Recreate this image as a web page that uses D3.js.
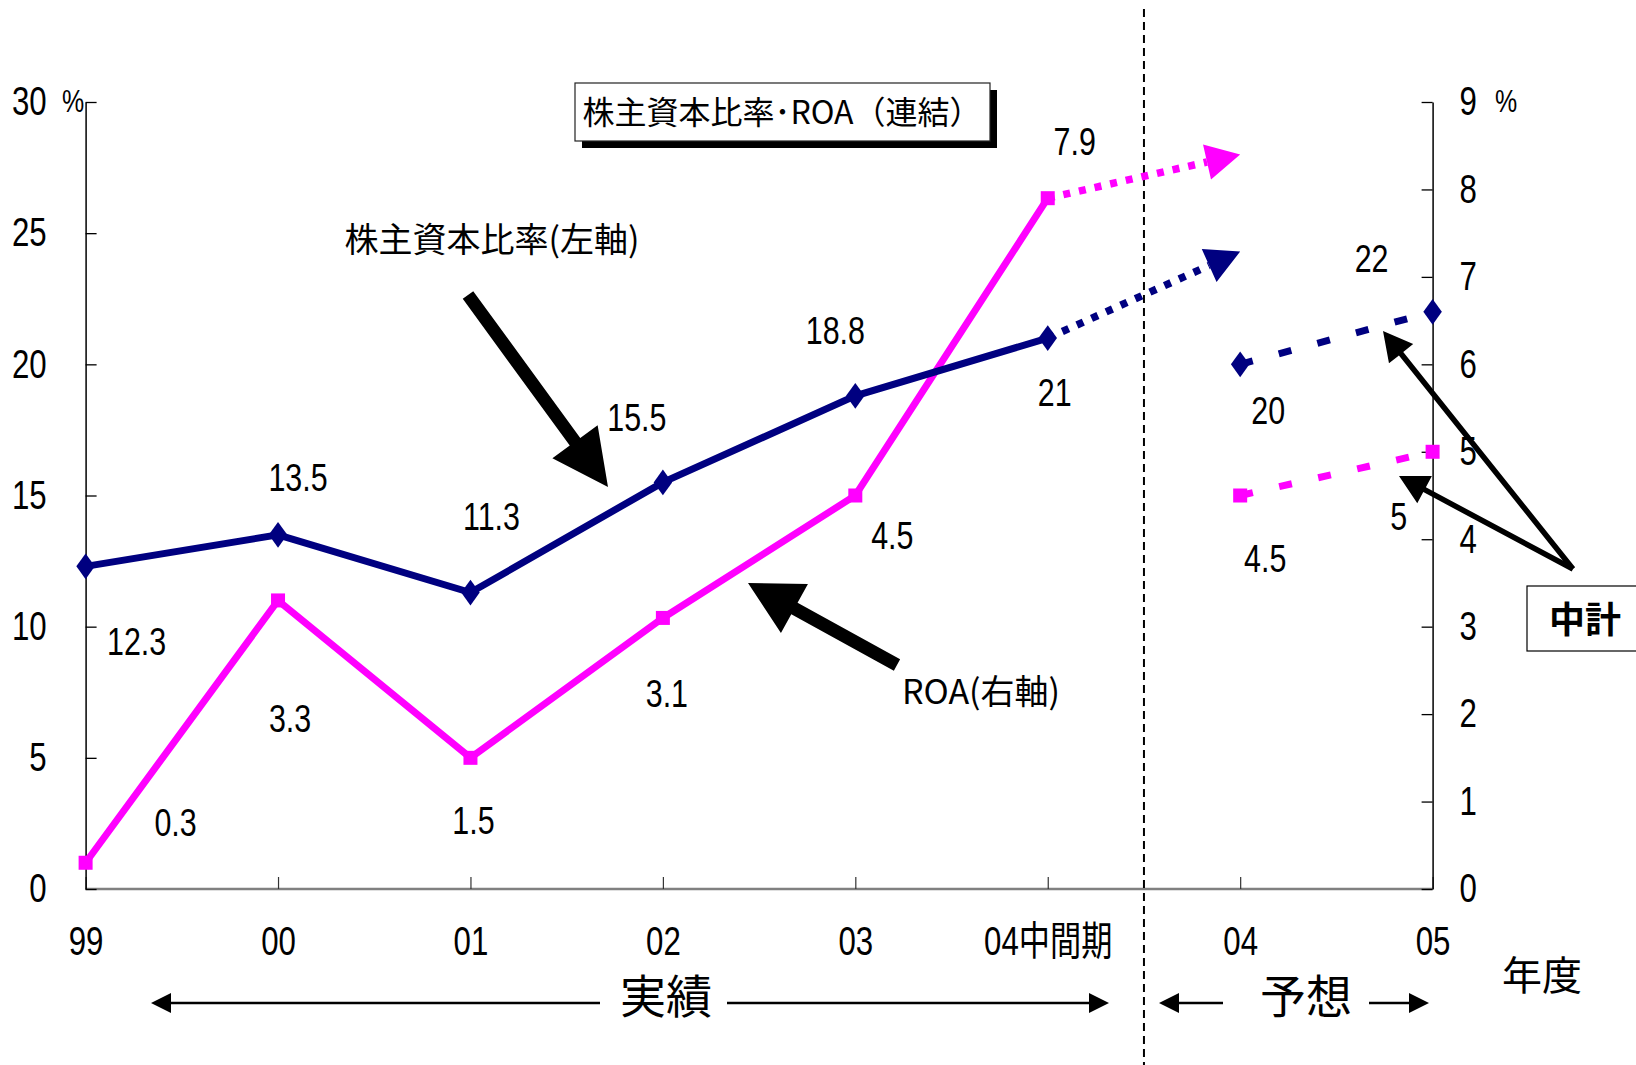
<!DOCTYPE html>
<html lang="ja">
<head>
<meta charset="utf-8">
<script src="https://cdn.jsdelivr.net/npm/d3@7"></script>
<style>
  html, body { margin: 0; padding: 0; background: #fff; }
  svg { display: block; }
</style>
</head>
<body>
<svg id="chart" width="1636" height="1065"></svg>
<script>
/* ============================
   Data
============================ */

const years = ["99", "00", "01", "02", "03", "04中間期", "04", "05"];
const actualYears = ["99", "00", "01", "02", "03", "04中間期"];
const planYears = ["04", "05"];

// 株主資本比率 (左軸, %)
const equityActual = [12.3, 13.5, 11.3, 15.5, 18.8, 21];
const equityPlan = [20, 22];
const equityTrendTarget = 24.3;   // 点線矢印の先端 (04)

// ROA (右軸, %)
const roaActual = [0.3, 3.3, 1.5, 3.1, 4.5, 7.9];
const roaPlan = [4.5, 5];
const roaTrendTarget = 8.4;

const leftTicks = [0, 5, 10, 15, 20, 25, 30];
const rightTicks = [0, 1, 2, 3, 4, 5, 6, 7, 8, 9];

/* ============================
   Setup
============================ */

const NAVY = "#000080";
const MAGENTA = "#ff00ff";
const LAT_FONT = "'Liberation Sans', 'Noto Sans CJK JP', sans-serif";
const JP_FONT = "'Noto Sans CJK JP', sans-serif";
const SX = 0.78;   // smal stil (Arial Narrow-liknande)

const svg = d3.select("#chart");

const x = d3.scalePoint().domain(years).range([85.6, 1432.6]).padding(0);
const yL = d3.scaleLinear().domain([0, 30]).range([889, 102]);
const yR = d3.scaleLinear().domain([0, 9]).range([889, 102]);

/* ============================
   Hjälpfunktioner
============================ */

function arrowPath(x1, y1, x2, y2, shaft, headLen, headW) {
  const dx = x2 - x1, dy = y2 - y1;
  const len = Math.hypot(dx, dy);
  const ux = dx / len, uy = dy / len;
  const px = -uy, py = ux;
  const bx = x2 - ux * headLen, by = y2 - uy * headLen;
  const p = d3.path();
  p.moveTo(x1 + px * shaft / 2, y1 + py * shaft / 2);
  p.lineTo(bx + px * shaft / 2, by + py * shaft / 2);
  p.lineTo(bx + px * headW / 2, by + py * headW / 2);
  p.lineTo(x2, y2);
  p.lineTo(bx - px * headW / 2, by - py * headW / 2);
  p.lineTo(bx - px * shaft / 2, by - py * shaft / 2);
  p.lineTo(x1 - px * shaft / 2, y1 - py * shaft / 2);
  p.closePath();
  return p.toString();
}

// narrow text: placed at (x,y), squeezed horizontally
function nText(parent, x, y, str, size, anchor = "middle") {
  return parent.append("text")
    .attr("transform", `translate(${x},${y}) scale(${SX},1)`)
    .attr("dy", "0.36em")
    .attr("text-anchor", anchor)
    .attr("font-family", LAT_FONT)
    .attr("font-size", size)
    .attr("fill", "#000")
    .text(str);
}

function squeezeTicks(axisG) {
  axisG.selectAll(".tick text").each(function () {
    const t = d3.select(this);
    const tx = +t.attr("x") || 0;
    t.attr("x", tx / SX)
      .attr("transform", `scale(${SX},1)`)
      .attr("font-family", LAT_FONT)
      .attr("font-size", 40)
      .attr("fill", "#000");
  });
}

/* ============================
   Axlar
============================ */

svg.append("line")
  .attr("x1", x("99")).attr("x2", x("05"))
  .attr("y1", yL(0)).attr("y2", yL(0))
  .attr("stroke", "#808080").attr("stroke-width", 2.5);

const xAxis = svg.append("g")
  .attr("transform", `translate(0,${yL(0)})`)
  .call(d3.axisBottom(x).tickSizeInner(-12).tickSizeOuter(0).tickPadding(38));
xAxis.select(".domain").remove();
xAxis.selectAll(".tick line").attr("stroke", "#333").attr("stroke-width", 1.2);
squeezeTicks(xAxis);

const leftAxis = svg.append("g")
  .attr("transform", `translate(${x("99")},0)`)
  .call(d3.axisLeft(yL).tickValues(leftTicks).tickSizeInner(-11).tickSizeOuter(0).tickPadding(39));
leftAxis.select(".domain").attr("stroke", "#000").attr("stroke-width", 1.5);
leftAxis.selectAll(".tick line").attr("stroke", "#000").attr("stroke-width", 1.3);
squeezeTicks(leftAxis);

const rightAxis = svg.append("g")
  .attr("transform", `translate(${x("05")},0)`)
  .call(d3.axisRight(yR).tickValues(rightTicks).tickSizeInner(-11).tickSizeOuter(0).tickPadding(27));
rightAxis.select(".domain").attr("stroke", "#000").attr("stroke-width", 1.5);
rightAxis.selectAll(".tick line").attr("stroke", "#000").attr("stroke-width", 1.3);
squeezeTicks(rightAxis);

nText(svg, 62, yL(30) - 2, "%", 32, "start");
nText(svg, 1495, yR(9) - 2, "%", 32, "start");

/* ============================
   Separator (実績 / 予想)
============================ */

const sepX = (x("04中間期") + x("04")) / 2;
svg.append("line")
  .attr("x1", sepX).attr("x2", sepX)
  .attr("y1", 9).attr("y2", 1065)
  .attr("stroke", "#000").attr("stroke-width", 2)
  .attr("stroke-dasharray", "8,5");

/* ============================
   Linjer
============================ */

const equityPts = actualYears.map((d, i) => [x(d), yL(equityActual[i])]);
const roaPts = actualYears.map((d, i) => [x(d), yR(roaActual[i])]);
const equityPlanPts = planYears.map((d, i) => [x(d), yL(equityPlan[i])]);
const roaPlanPts = planYears.map((d, i) => [x(d), yR(roaPlan[i])]);

const line = d3.line();

svg.append("path")
  .attr("d", line(roaPts))
  .attr("fill", "none").attr("stroke", MAGENTA)
  .attr("stroke-width", 7);

svg.append("path")
  .attr("d", line(equityPts))
  .attr("fill", "none").attr("stroke", NAVY)
  .attr("stroke-width", 7);

// 中計 (dashed)
svg.append("path")
  .attr("d", line(equityPlanPts))
  .attr("fill", "none").attr("stroke", NAVY)
  .attr("stroke-width", 7).attr("stroke-dasharray", "13,27");
svg.append("path")
  .attr("d", line(roaPlanPts))
  .attr("fill", "none").attr("stroke", MAGENTA)
  .attr("stroke-width", 7).attr("stroke-dasharray", "13,27");

// trend (dotted + arrowhead)
function trendArrow(from, target, color) {
  const to = [x("04"), target];
  const dx = to[0] - from[0], dy = to[1] - from[1];
  const len = Math.hypot(dx, dy);
  const head = 34;
  const bx = to[0] - dx / len * head, by = to[1] - dy / len * head;
  svg.append("line")
    .attr("x1", from[0]).attr("y1", from[1])
    .attr("x2", bx).attr("y2", by)
    .attr("stroke", color).attr("stroke-width", 7.5)
    .attr("stroke-dasharray", "7,9");
  svg.append("path")
    .attr("d", arrowPath(from[0], from[1], to[0], to[1], 0, head, 36))
    .attr("fill", color);
}
trendArrow(roaPts[roaPts.length - 1], yR(roaTrendTarget), MAGENTA);
trendArrow(equityPts[equityPts.length - 1], yL(equityTrendTarget), NAVY);

/* ============================
   Markörer
============================ */

const diamond = d3.symbol().type(d3.symbolDiamond).size(190);

svg.selectAll("path.eq-mark")
  .data(equityPts.concat(equityPlanPts))
  .enter()
  .append("path")
  .attr("class", "eq-mark")
  .attr("transform", d => `translate(${d[0]},${d[1]}) scale(1.25,1)`)
  .attr("d", diamond)
  .attr("fill", NAVY);

svg.selectAll("rect.roa-mark")
  .data(roaPts.concat(roaPlanPts))
  .enter()
  .append("rect")
  .attr("class", "roa-mark")
  .attr("x", d => d[0] - 7)
  .attr("y", d => d[1] - 7)
  .attr("width", 14)
  .attr("height", 14)
  .attr("fill", MAGENTA);

/* ============================
   Dataetiketter
============================ */

const equityOffsets = [[51, 75], [20, -58], [21, -77], [-26, -65], [-20, -66], [7, 54], [28, 46], [-61, -54]];
const roaOffsets = [[90, -41], [12, 118], [3, 62], [4, 75], [37, 39], [27, -57], [25, 62], [-34, 64]];

const eqAll = equityPts.concat(equityPlanPts);
const roaAll = roaPts.concat(roaPlanPts);

equityActual.concat(equityPlan).forEach((v, i) => {
  nText(svg, eqAll[i][0] + equityOffsets[i][0], eqAll[i][1] + equityOffsets[i][1], v, 39);
});
roaActual.concat(roaPlan).forEach((v, i) => {
  nText(svg, roaAll[i][0] + roaOffsets[i][0], roaAll[i][1] + roaOffsets[i][1], v, 39);
});

/* ============================
   Titel + annoteringar
============================ */

svg.append("rect")
  .attr("x", 582).attr("y", 90).attr("width", 415).attr("height", 58)
  .attr("fill", "#000");
svg.append("rect")
  .attr("x", 575).attr("y", 83).attr("width", 415).attr("height", 58)
  .attr("fill", "#fff").attr("stroke", "#222").attr("stroke-width", 1.2);
svg.append("text")
  .attr("x", 782).attr("y", 112).attr("dy", "0.36em")
  .attr("text-anchor", "middle")
  .attr("font-family", JP_FONT).attr("font-size", 32)
  .text("株主資本比率･ROA（連結）");

svg.append("text")
  .attr("x", 492).attr("y", 240).attr("dy", "0.36em")
  .attr("text-anchor", "middle")
  .attr("font-family", JP_FONT).attr("font-size", 34)
  .text("株主資本比率(左軸)");

svg.append("text")
  .attr("x", 981).attr("y", 692).attr("dy", "0.36em")
  .attr("text-anchor", "middle")
  .attr("font-family", JP_FONT).attr("font-size", 34)
  .text("ROA(右軸)");

svg.append("path").attr("d", arrowPath(468, 295, 608, 487, 13, 56, 56)).attr("fill", "#000");
svg.append("path").attr("d", arrowPath(897, 665, 748, 583, 13, 53, 56)).attr("fill", "#000");

// 中計
svg.append("path").attr("d", arrowPath(1573, 569, 1383, 331, 5.5, 29, 31)).attr("fill", "#000");
svg.append("path").attr("d", arrowPath(1573, 569, 1399, 476, 5.5, 29, 31)).attr("fill", "#000");

svg.append("rect")
  .attr("x", 1527).attr("y", 586).attr("width", 120).attr("height", 65)
  .attr("fill", "#fff").attr("stroke", "#000").attr("stroke-width", 1.2);
svg.append("text")
  .attr("x", 1585).attr("y", 620).attr("dy", "0.36em")
  .attr("text-anchor", "middle")
  .attr("font-family", JP_FONT).attr("font-size", 36).attr("font-weight", "bold")
  .text("中計");

/* ============================
   実績 / 予想 / 年度
============================ */

const arrowY = 1003;
svg.append("path").attr("d", arrowPath(600, arrowY, 151, arrowY, 2.5, 20, 20)).attr("fill", "#000");
svg.append("path").attr("d", arrowPath(727, arrowY, 1109, arrowY, 2.5, 20, 20)).attr("fill", "#000");
svg.append("path").attr("d", arrowPath(1223, arrowY, 1159, arrowY, 2.5, 20, 20)).attr("fill", "#000");
svg.append("path").attr("d", arrowPath(1369, arrowY, 1429, arrowY, 2.5, 20, 20)).attr("fill", "#000");

svg.append("text")
  .attr("x", 666).attr("y", 996).attr("dy", "0.36em")
  .attr("text-anchor", "middle")
  .attr("font-family", JP_FONT).attr("font-size", 46)
  .text("実績");
svg.append("text")
  .attr("x", 1306).attr("y", 996).attr("dy", "0.36em")
  .attr("text-anchor", "middle")
  .attr("font-family", JP_FONT).attr("font-size", 46)
  .text("予想");
svg.append("text")
  .attr("x", 1542).attr("y", 976).attr("dy", "0.36em")
  .attr("text-anchor", "middle")
  .attr("font-family", JP_FONT).attr("font-size", 40)
  .text("年度");
</script>
</body>
</html>
